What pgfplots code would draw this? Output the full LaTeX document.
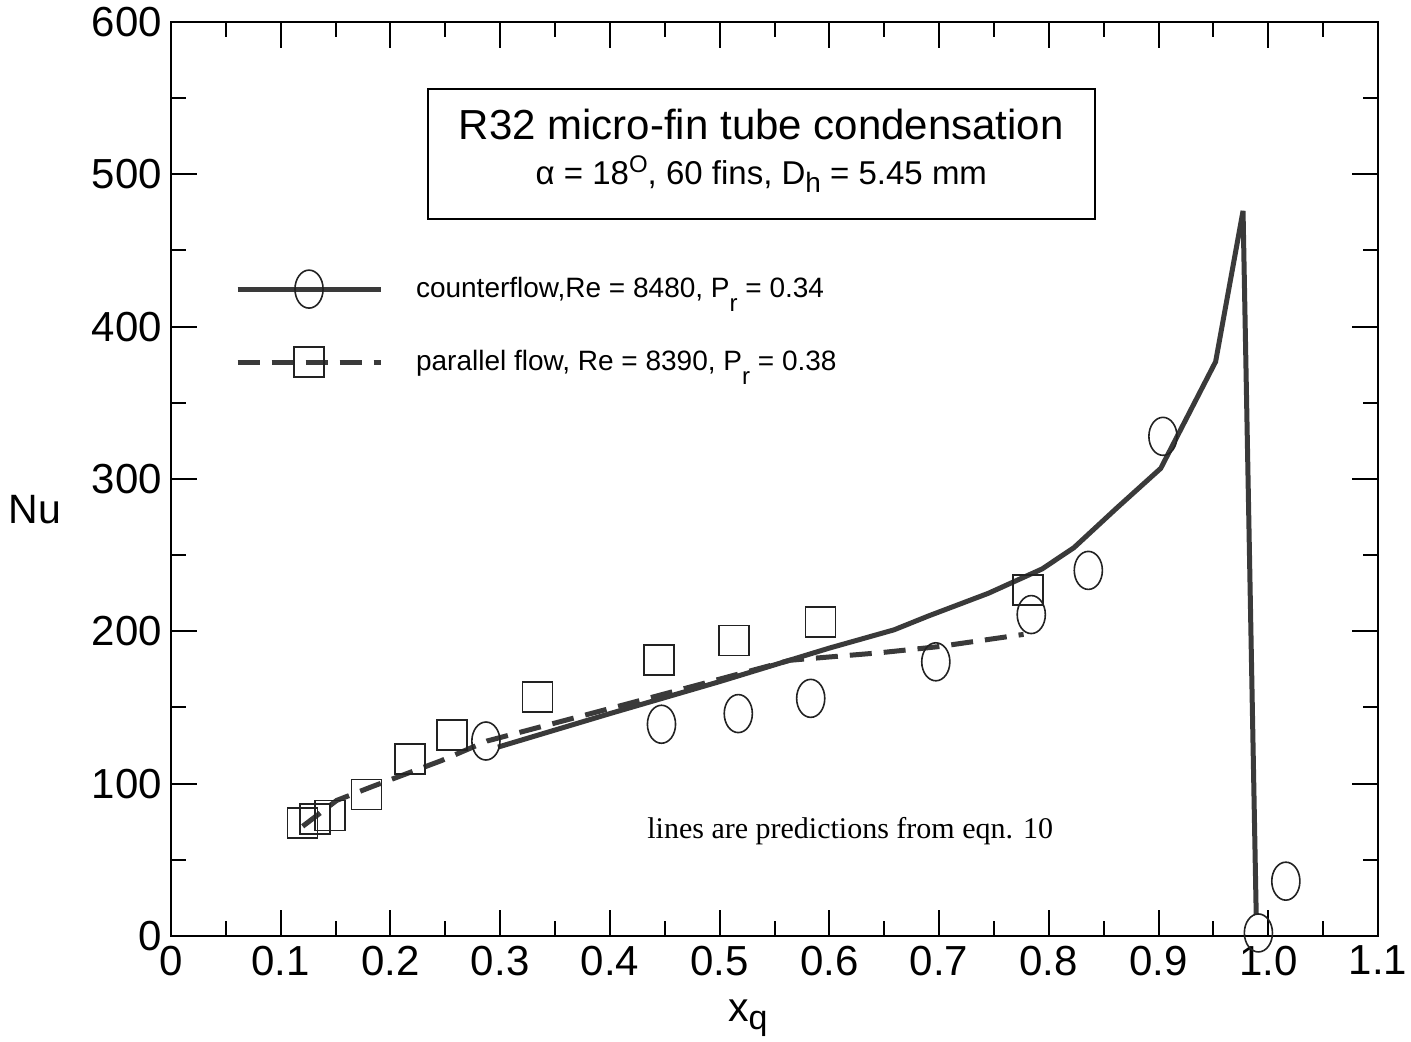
\documentclass[border=0pt]{standalone}
\usepackage{fontspec}
\setmainfont{Liberation Sans}
\newfontfamily\timesfont{Liberation Serif}
\usepackage{pgfplots}
\pgfplotsset{compat=1.18}
\definecolor{linegray}{HTML}{3A3A3A}
\definecolor{markgray}{HTML}{222222}

\begin{document}
\begin{tikzpicture}
\useasboundingbox (-85.5pt,-53pt) rectangle (620pt,468pt);
\begin{axis}[
  at={(0,0)}, anchor=south west,
  scale only axis, width=603.5pt, height=457pt,
  xmin=0, xmax=1.1, ymin=0, ymax=600,
  xtick={0,0.1,0.2,0.3,0.4,0.5,0.6,0.7,0.8,0.9,1.0,1.1},
  xticklabels={0,0.1,0.2,0.3,0.4,0.5,0.6,0.7,0.8,0.9,1.0,1.1},
  ytick={0,100,200,300,400,500,600},
  minor x tick num=1, minor y tick num=1,
  tick align=inside,
  major tick length=13pt, minor tick length=7.5pt,
  every tick/.style={black, line width=1pt},
  axis line style={line width=1pt, black},
  /pgf/number format/assume math mode=true,
  ticklabel style={font=\fontsize{21}{25}\selectfont},
  xticklabel style={yshift=-1.5pt},
  yticklabel style={xshift=-1pt},
  every axis y label/.style={at={(axis description cs:-0.1127,0.466)}, anchor=center, font=\fontsize{20.5}{24}\selectfont},
  every axis x label/.style={at={(axis description cs:0.478,-0.093)}, anchor=base, font=\fontsize{20.5}{24}\selectfont},
  ylabel={Nu},
  xlabel={x\raisebox{-0.4ex}{\fontsize{17}{20}\selectfont q}},
  clip=false,
  legend style={at={(axis cs:0.058,402)}, anchor=west, draw=none, fill=none,
    inner sep=0pt, nodes={inner sep=0pt}, column sep=16.5pt, row sep=19.5pt,
    font=\fontsize{14}{17}\selectfont, cells={anchor=west}},
  legend image code/.code={\draw[mark repeat=2,mark phase=2,#1] plot coordinates {(0pt,0pt) (35.75pt,0pt) (71.5pt,0pt)};},
]
% prediction lines
\addplot[linegray, line width=2.5pt, forget plot] coordinates {
(0.298,124) (0.40,146) (0.50,167) (0.60,189) (0.659,201) (0.69,210) (0.745,225) (0.794,241) (0.823,255) (0.862,281) (0.902,307) (0.952,377) (0.977,476) (0.989,14)
};
\addplot[linegray, line width=2.5pt, dash pattern=on 11pt off 6pt, forget plot] coordinates {
(0.120,72) (0.151,89) (0.183,98) (0.246,115) (0.288,128) (0.414,152) (0.564,181) (0.647,186) (0.700,190) (0.777,198)
};
% data: counterflow (ellipses)
\addplot[only marks, mark=o, mark size=9.5pt, mark options={xscale=0.74, line width=0.8pt, markgray}, forget plot] coordinates {
(0.287,128) (0.447,139) (0.517,146) (0.583,156) (0.697,180) (0.784,211) (0.836,240) (0.904,328) (0.991,2) (1.016,36)
};
% data: parallel flow (squares)
\addplot[only marks, mark=square, mark size=7.5pt, mark options={line width=0.8pt, markgray}, forget plot] coordinates {
(0.120,74) (0.131,77) (0.145,79) (0.178,93) (0.218,116) (0.256,132) (0.334,157) (0.445,181) (0.513,194) (0.592,206) (0.781,227)
};
\addlegendimage{linegray, line width=2.5pt, mark=o, mark size=9.5pt, mark options={solid, xscale=0.74, line width=0.8pt, markgray}}
\addlegendentry{counterflow,Re = 8480, P\raisebox{-0.9ex}{\fontsize{12}{14}\selectfont r} = 0.34}
\addlegendimage{linegray, line width=2.5pt, dash pattern=on 11pt off 6pt, mark=square, mark size=7.5pt, mark options={solid, line width=0.8pt, markgray}}
\addlegendentry{parallel flow, Re = 8390, P\raisebox{-0.9ex}{\fontsize{12}{14}\selectfont r} = 0.38}
% title box
\draw[line width=1pt, black] (axis cs:0.234,556) rectangle (axis cs:0.842,471);
\node[anchor=base, inner sep=0pt, font=\fontsize{21}{25}\selectfont] at (axis cs:0.538,523) {R32 micro-fin tube condensation};
\node[anchor=base, inner sep=0pt, font=\fontsize{16.5}{20}\selectfont] at (axis cs:0.538,493) {α = 18\raisebox{0.7ex}{\fontsize{12}{14}\selectfont O}, 60 fins, D\raisebox{-0.45ex}{\fontsize{14}{16}\selectfont h} = 5.45 mm};
\node[anchor=base, inner sep=0pt, font=\timesfont\fontsize{15}{18}\selectfont] at (axis cs:0.619,64) {lines are predictions from eqn. 10};
\end{axis}
\end{tikzpicture}
\end{document}
